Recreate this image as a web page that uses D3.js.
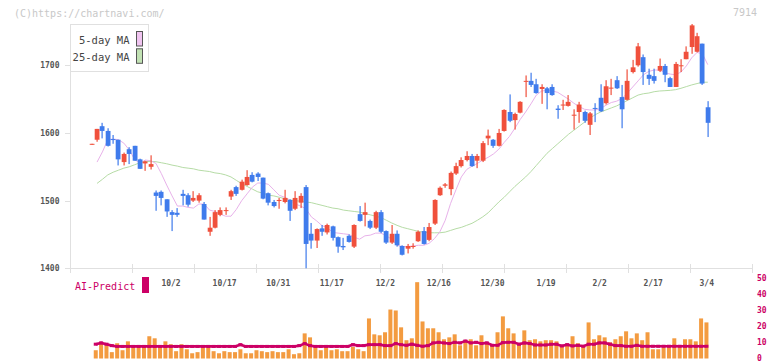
<!DOCTYPE html>
<html><head><meta charset="utf-8">
<script src="https://cdn.jsdelivr.net/npm/d3@7"></script>
<style>body{margin:0;background:#fff}svg{display:block}</style>
</head><body>
<svg id="c" width="772" height="361"></svg>
<script>
// ---- data (trading days 9/9 .. 3/4) ----
const openP  = [1584,1590,1610,1603,1591,1590,1557,1576,1581,1561,1555,1550,1512,1513,1502,1483,1482,1510,1508,1500,1500,1495,1454,1460,1479,1485,1506,1520,1516,1523,1538,1540,1534,1511,1498,1500,1498,1501,1488,1497,1520,1451,1441,1459,1453,1462,1446,1433,1448,1432,1480,1479,1470,1460,1483,1455,1438,1451,1433,1429,1432,1440,1455,1442,1466,1508,1522,1517,1540,1551,1560,1566,1559,1559,1592,1590,1581,1603,1631,1619,1630,1676,1677,1672,1665,1666,1668,1636,1641,1640,1626,1631,1631,1612,1637,1652,1644,1666,1678,1653,1649,1690,1700,1712,1686,1684,1692,1699,1681,1668,1699,1709,1727,1720,1732,1638];
const highP  = [1584,1606,1615,1607,1597,1590,1571,1579,1581,1562,1559,1567,1515,1515,1502,1486,1489,1516,1511,1514,1511,1498,1476,1486,1490,1490,1516,1522,1531,1545,1542,1542,1534,1512,1501,1504,1516,1502,1514,1511,1523,1467,1459,1464,1466,1463,1447,1445,1450,1465,1492,1497,1472,1485,1486,1456,1464,1456,1434,1436,1437,1456,1461,1467,1502,1521,1526,1543,1556,1564,1573,1569,1569,1588,1605,1591,1606,1635,1657,1630,1647,1685,1689,1680,1672,1668,1672,1641,1649,1656,1635,1646,1633,1631,1644,1672,1678,1680,1684,1671,1694,1708,1733,1716,1695,1695,1710,1702,1683,1705,1709,1728,1761,1748,1732,1647];
const lowP   = [1584,1587,1592,1580,1584,1552,1552,1554,1559,1547,1544,1546,1485,1493,1476,1455,1476,1493,1491,1498,1497,1472,1448,1459,1477,1479,1501,1507,1515,1522,1527,1529,1502,1493,1490,1488,1496,1470,1486,1489,1400,1429,1430,1448,1450,1441,1423,1427,1438,1430,1469,1462,1458,1458,1452,1436,1436,1432,1419,1422,1429,1439,1435,1440,1464,1507,1519,1508,1538,1549,1558,1550,1548,1557,1582,1578,1580,1602,1616,1605,1629,1653,1668,1658,1643,1635,1655,1621,1634,1639,1605,1615,1615,1597,1616,1631,1642,1656,1665,1607,1648,1688,1698,1671,1671,1673,1690,1675,1668,1668,1690,1709,1717,1719,1671,1594];
const closeP = [1584,1606,1603,1581,1590,1561,1569,1569,1559,1547,1558,1554,1507,1504,1484,1479,1479,1507,1494,1504,1508,1472,1460,1483,1486,1486,1514,1510,1528,1535,1528,1535,1503,1497,1492,1501,1504,1485,1504,1507,1436,1441,1458,1454,1464,1445,1432,1431,1439,1464,1470,1483,1460,1483,1454,1438,1451,1434,1420,1433,1433,1454,1436,1461,1501,1519,1524,1541,1551,1560,1566,1551,1566,1585,1596,1581,1600,1634,1618,1628,1646,1677,1671,1659,1668,1659,1656,1634,1642,1646,1627,1642,1618,1629,1636,1632,1669,1667,1666,1635,1677,1697,1728,1690,1680,1677,1699,1686,1668,1702,1700,1720,1759,1743,1673,1615];
const ma5 = [null,1557,1572,1590,1591,1590,1585,1575,1561,1555,1560,1559,1555,1540,1523,1507,1492,1492,1490,1489,1495,1495,1486,1484,1480,1477,1477,1487,1500,1510,1520,1526,1526,1524,1516,1508,1505,1501,1495,1492,1488,1476,1470,1463,1460,1453,1452,1451,1450,1446,1443,1448,1449,1452,1452,1448,1443,1434,1432,1432,1433,1434,1434,1437,1444,1454,1471,1496,1516,1535,1546,1551,1555,1560,1564,1569,1576,1586,1595,1607,1620,1631,1643,1656,1662,1663,1662,1660,1655,1650,1644,1639,1635,1634,1634,1636,1641,1645,1647,1651,1659,1668,1677,1686,1691,1693,1693,1689,1687,1686,1690,1699,1711,1719,1717,1701];
const ma25 = [null,1525.5,1531.5,1538,1542,1545,1548,1550,1553,1556,1557.5,1558,1557.5,1556,1554.5,1552.5,1551,1549,1548,1547,1545,1544,1543,1541,1540,1538,1535,1530,1525,1521,1517,1513,1511,1508,1507,1505,1503,1501,1500,1499,1498,1497,1495,1493,1491,1489,1488,1486,1485,1484,1483,1481,1479,1477,1475,1471,1467,1463.5,1460.5,1458.5,1456.5,1454.5,1453.5,1452.5,1452.5,1452.5,1453.5,1456,1458.5,1460.5,1463.5,1466.5,1471,1476,1482,1490,1498,1505,1513,1521,1528,1535,1543,1552,1561,1570,1577,1584,1591,1598,1604,1610,1616,1622,1627,1631,1634,1637,1640,1644,1648,1652,1656,1658,1659,1661,1662,1662.5,1663,1664,1666,1668.5,1671,1673,1675,1675];
const volume = [null,5.2,9.4,8.3,4,9.6,5.2,10.8,7,7,7,14,12.7,7,10.8,9,4.6,9,5.8,3.3,4,6.9,7,4.6,3.3,4.6,4,4,5.8,3.3,3.3,5.2,4.6,4,4.6,4,4,5.8,2.7,3.3,15.8,13.3,7,5.2,6.9,5.2,5.8,4.6,4.6,7.3,5.8,4.6,25.2,15.2,14.6,16.5,30.8,30.2,19.6,11.5,12.7,48,23.3,19,19,16.5,12.1,13.3,15.2,8.3,11.5,12.1,8.3,14.6,10.2,8.3,16.5,26.5,19,15.8,9,17.7,11.5,12.1,10.8,11.5,11.5,10.8,7.7,9,14,9.6,7.1,22.7,12.1,14.6,13.3,10.2,12.1,14,17.1,12.7,15.8,11.5,16.5,5.8,5.8,7,7,12.7,7,12.1,12.1,10.8,25.2,22.7];
const aiPredict = [null,9,9.8,9,8.1,7.6,7.6,7.6,7.6,7.6,7.6,7.6,7.6,7.6,7.6,7.6,7.6,7.6,7.6,7.6,7.6,7.6,7.6,7.6,7.6,7.6,7.6,7.6,8.7,7.6,7.6,7.6,7.6,7.6,7.6,7.6,7.6,7.6,7.6,8.1,9.4,8.1,7.6,7.6,7.6,7.6,7.6,7.6,7.6,8.7,8.1,8.1,8.7,8.7,8.7,8.1,8.1,9.4,8.7,8.3,9,8.3,7.7,8.1,9.8,10.2,9.8,9.4,10.2,9.8,11,9.8,10.2,9.4,9.8,8.3,8.3,10,10.2,10.2,9,9.8,9.4,8.5,8.5,8.5,9,9,7.9,8.7,7.9,8.3,7.7,9,9,9.8,9.8,9,8.1,8.1,7.7,7.7,8.3,7.7,7.7,7.7,7.7,7.7,7.7,7.7,7.7,7.7,7.7,7.7,7.7,7.7];
const dateLabels = ["10/2","10/17","10/31","11/17","12/2","12/16","12/30","1/19","2/2","2/17","3/4"];
const firstLabelIndex = 15, labelStep = 10;
const priceTicks = [1400,1500,1600,1700];
const volumeTicks = [0,10,20,30,40,50];
const legendItems = [{name:"5-day MA", color:"#f0c4f0"},{name:"25-day MA", color:"#c2e2b4"}];

// ---- styles ----
const UP = "#f0503c", DOWN = "#3f7bec", VOL = "#f39b40", AI = "#cc0066";
const MONO = "'DejaVu Sans Mono', 'Liberation Mono', monospace";

const svg = d3.select("#c");
const n = closeP.length;
const x = d3.scaleLinear().domain([-4.05, 123.26]).range([70, 752]);
const y = d3.scaleLinear().domain([1400, 1700]).range([268.3, 65.3]);
const vy = d3.scaleLinear().domain([0, 50]).range([358.5, 279]);

// header texts
svg.append("text").attr("x", 14).attr("y", 16.5).attr("font-family", MONO).attr("font-size", 10)
  .attr("fill", "#c8c8c8").text("(C)https://chartnavi.com/");
svg.append("text").attr("x", 757).attr("y", 16).attr("text-anchor", "end").attr("font-family", MONO)
  .attr("font-size", 10).attr("fill", "#c8c8c8").text("7914");

// axes
const g = svg.append("g");
g.append("line").attr("x1", 70.5).attr("x2", 70.5).attr("y1", 24).attr("y2", 268).attr("stroke", "#e0e0e0");
g.append("line").attr("x1", 70).attr("x2", 752).attr("y1", 268.5).attr("y2", 268.5).attr("stroke", "#e0e0e0");
d3.range(12).forEach(k => {
  const px = Math.round(70 + k * (752 - 70) / 11) + 0.5;
  g.append("line").attr("x1", px).attr("x2", px).attr("y1", 264).attr("y2", 273).attr("stroke", "#e0e0e0");
});
priceTicks.forEach(p => {
  const py = Math.round(y(p)) + 0.5;
  g.append("line").attr("x1", 65).attr("x2", 70).attr("y1", py).attr("y2", py).attr("stroke", "#e0e0e0");
  g.append("text").attr("x", 59.5).attr("y", py).attr("dy", "0.35em").attr("text-anchor", "end")
    .attr("font-family", MONO).attr("font-size", 8).attr("font-weight", "bold").attr("fill", "#555").text(p);
});
dateLabels.forEach((lab, k) => {
  g.append("text").attr("x", x(firstLabelIndex + k * labelStep) - 1).attr("y", 283).attr("dy", "0.35em")
    .attr("text-anchor", "middle").attr("font-family", MONO).attr("font-size", 8).attr("font-weight", "bold")
    .attr("fill", "#555").text(lab);
});

// moving averages
const lineGen = arr => d3.line().defined(d => d != null).x((d, i) => x(i)).y(d => y(d))(arr);
svg.append("path").attr("d", lineGen(ma25)).attr("fill", "none").attr("stroke", "#b6dca6").attr("stroke-width", 1);
svg.append("path").attr("d", lineGen(ma5)).attr("fill", "none").attr("stroke", "#e8b2ea").attr("stroke-width", 1);

// candles
const cg = svg.append("g");
for (let i = 0; i < n; i++) {
  const up = closeP[i] >= openP[i];
  const col = up ? UP : DOWN;
  const cx = Math.round(x(i));
  cg.append("rect").attr("x", cx - 0.5).attr("width", 1.2)
    .attr("y", y(highP[i])).attr("height", Math.max(1, y(lowP[i]) - y(highP[i]))).attr("fill", col);
  const top = y(Math.max(openP[i], closeP[i])), bot = y(Math.min(openP[i], closeP[i]));
  cg.append("rect").attr("x", cx - 2.3).attr("width", 4.8)
    .attr("y", top).attr("height", Math.max(1, bot - top)).attr("fill", col);
}

// legend
const lg = svg.append("g");
lg.append("rect").attr("x", 70.5).attr("y", 24.5).attr("width", 78).attr("height", 47)
  .attr("fill", "#fff").attr("stroke", "#e0e0e0");
legendItems.forEach((it, k) => {
  lg.append("text").attr("x", 129.5).attr("y", 40.5 + k * 16.5).attr("dy", "0.35em").attr("text-anchor", "end")
    .attr("font-family", MONO).attr("font-size", 10.5).attr("fill", "#444").text(it.name);
  lg.append("rect").attr("x", 136.5).attr("y", 31.5 + k * 17.3).attr("width", 6).attr("height", 14.5)
    .attr("fill", it.color).attr("stroke", "#555");
});

// volume panel
const vg = svg.append("g");
for (let i = 1; i < n; i++) {
  const bx = x(i) - 1.3;
  vg.append("rect").attr("x", bx - 2).attr("width", 4).attr("y", vy(volume[i]))
    .attr("height", vy(0) - vy(volume[i])).attr("fill", VOL);
}
const aiLine = d3.line().defined(d => d != null).x((d, i) => x(i) - 1.3).y(d => vy(d));
vg.append("path").attr("d", aiLine(aiPredict)).attr("fill", "none").attr("stroke", AI).attr("stroke-width", 2.6);
aiPredict.forEach((d, i) => {
  if (d == null) return;
  vg.append("rect").attr("x", x(i) - 1.3 - 2).attr("y", vy(d) - 1.5).attr("width", 4).attr("height", 3).attr("fill", AI);
});
volumeTicks.forEach(v => {
  vg.append("text").attr("x", 757).attr("y", vy(v) - 0.8).attr("dy", "0.35em").attr("font-family", MONO)
    .attr("font-size", 8).attr("font-weight", "bold").attr("fill", AI).text(v);
});
svg.append("text").attr("x", 75).attr("y", 286).attr("dy", "0.35em").attr("font-family", MONO)
  .attr("font-size", 10).attr("fill", AI).text("AI-Predict");
svg.append("rect").attr("x", 142).attr("y", 277).attr("width", 7).attr("height", 16).attr("fill", AI);
</script>
</body></html>
